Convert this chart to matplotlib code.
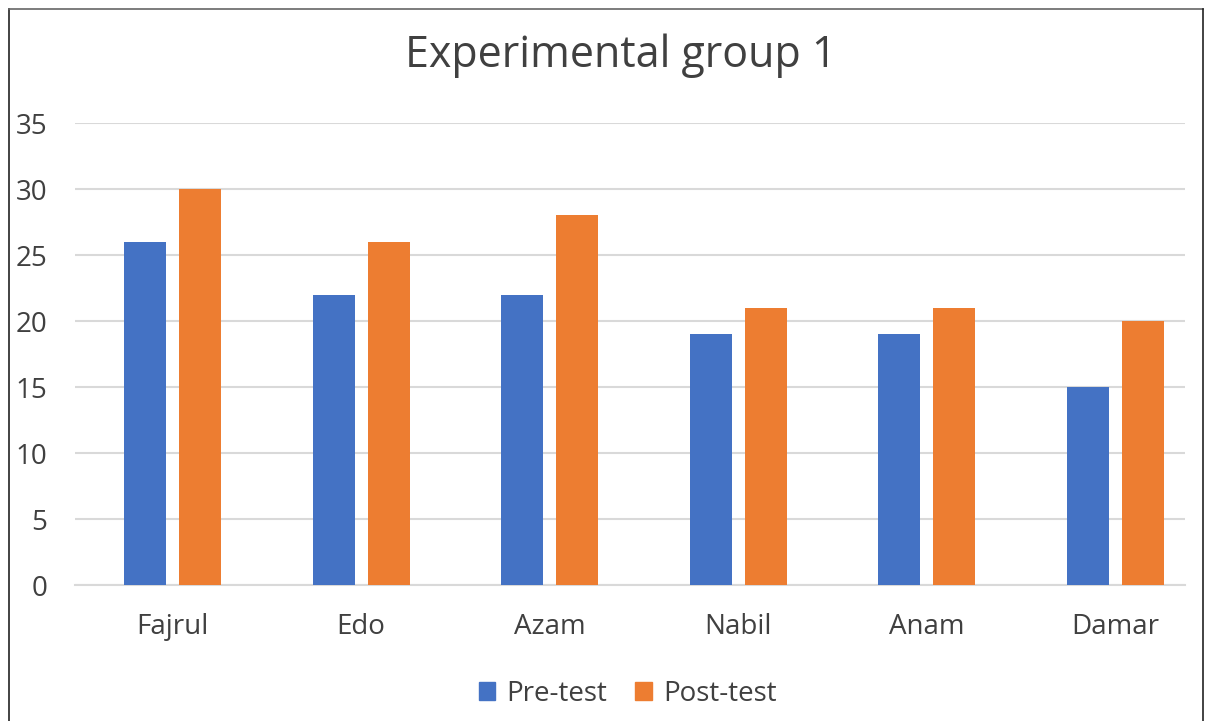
import matplotlib.pyplot as plt
import numpy as np
from matplotlib.patches import Rectangle
from matplotlib.lines import Line2D

plt.rcParams['font.family'] = ['Open Sans', 'DejaVu Sans']

names = ['Fajrul', 'Edo', 'Azam', 'Nabil', 'Anam', 'Damar']
pre_test = [26, 22, 22, 19, 19, 15]
post_test = [30, 26, 28, 21, 21, 20]

blue = '#4472C4'
orange = '#ED7D31'
txt = '#404040'

fig = plt.figure(figsize=(12.14, 7.21), dpi=100)
ax = fig.add_axes([0.0618, 0.1886, 0.9142, 0.6408])

x = np.arange(len(names))
w = 0.223
off = 0.146
ax.bar(x - off, pre_test, w, color=blue, label='Pre-test', zorder=3)
ax.bar(x + off, post_test, w, color=orange, label='Post-test', zorder=3)

ax.set_xlim(-0.517, 5.369)
ax.set_ylim(0, 35)
ax.set_yticks(range(0, 36, 5))
ax.set_xticks(x)
ax.set_xticklabels(names)
ax.yaxis.grid(True, color='#D9D9D9', linewidth=1.5, zorder=0)
for s in ['top', 'right', 'left']:
    ax.spines[s].set_visible(False)
ax.spines['bottom'].set_color('#D9D9D9')
ax.spines['bottom'].set_linewidth(1.5)
ax.tick_params(axis='both', length=0, labelsize=20, colors=txt)
ax.tick_params(axis='y', pad=20)
ax.tick_params(axis='x', pad=20)

fig.text(0.511, 0.923, 'Experimental group 1', ha='center', va='center',
         fontsize=31, color=txt)

handles = [Rectangle((0, 0), 1, 1, color=blue), Rectangle((0, 0), 1, 1, color=orange)]
fig.legend(handles, ['Pre-test', 'Post-test'], loc='center', bbox_to_anchor=(0.517, 0.038),
           ncol=2, frameon=False, fontsize=20, handlelength=0.6, handleheight=0.6,
           handletextpad=0.4, columnspacing=1.0, labelcolor=txt)

# outer frame (left, top, right)
fig.add_artist(Line2D([9/1214, 9/1214], [0, 1 - 9/721], transform=fig.transFigure, color='#222222', lw=1.2))
fig.add_artist(Line2D([9/1214, 1203/1214], [1 - 9/721, 1 - 9/721], transform=fig.transFigure, color='#666666', lw=1.2))
fig.add_artist(Line2D([1203/1214, 1203/1214], [0, 1 - 9/721], transform=fig.transFigure, color='#222222', lw=1.2))

fig.savefig('out.png', dpi=100)
